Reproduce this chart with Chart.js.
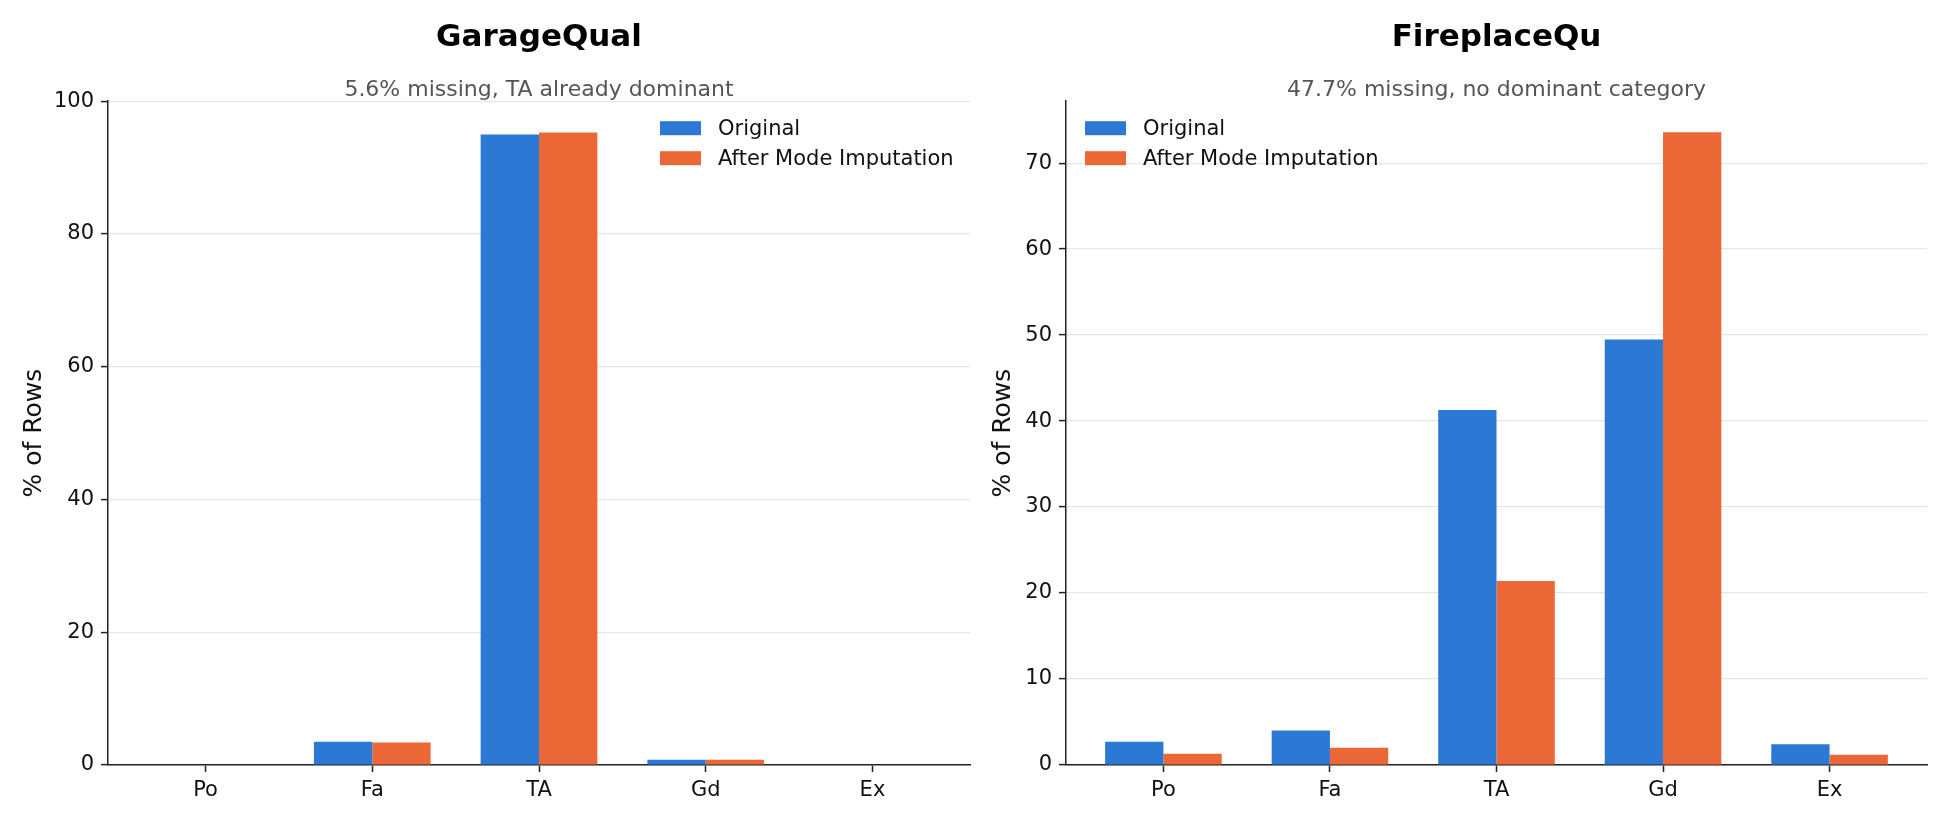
<!DOCTYPE html>
<html>
<head>
  <title>Mode Imputation</title>
  <script src="https://cdn.jsdelivr.net/npm/chart.js"></script>
  <style>
    body { margin: 0; background: #fff; }
    .panel { position: absolute; top: 0; width: 975px; height: 825px; }
  </style>
</head>
<body>
  <div class="panel" style="left:0"><canvas id="garageChart"></canvas></div>
  <div class="panel" style="left:975px"><canvas id="fireplaceChart"></canvas></div>

  <script>
    // ====================
    // Data (% of rows per category)
    // ====================
    const categories = ['Po', 'Fa', 'TA', 'Gd', 'Ex'];
    const seriesLabels = ['Original', 'After Mode Imputation'];

    const garageOriginal = [0, 3.5, 95.0, 0.8, 0];
    const garageImputed  = [0, 3.4, 95.3, 0.8, 0];
    const garageYTicks   = [0, 20, 40, 60, 80, 100];

    const fireplaceOriginal = [2.7, 4.0, 41.3, 49.5, 2.4];
    const fireplaceImputed  = [1.3, 2.0, 21.4, 73.6, 1.2];
    const fireplaceYTicks   = [0, 10, 20, 30, 40, 50, 60, 70];

    const BLUE = '#2b78d5';
    const ORANGE = '#eb6836';
    const FONT = 'DejaVu Sans';

    Chart.defaults.font.family = FONT;
    Chart.defaults.color = '#111';
    Chart.defaults.animation = false;

    // legend drawn inside the plot area, no frame
    const insideLegend = {
      id: 'insideLegend',
      afterDatasetsDraw(chart, args, opts) {
        const ctx = chart.ctx;
        const area = chart.chartArea;
        const x0 = area.left + opts.x;
        ctx.save();
        ctx.font = '21px "' + FONT + '"';
        ctx.textBaseline = 'middle';
        ctx.textAlign = 'left';
        chart.data.datasets.forEach((ds, i) => {
          const y = area.top + opts.y + i * opts.rowGap;
          ctx.fillStyle = ds.backgroundColor;
          ctx.fillRect(x0, y - 7, 41, 14);
          ctx.fillStyle = '#111';
          ctx.fillText(ds.label, x0 + 41 + 17, y + 1);
        });
        ctx.restore();
      }
    };

    function makeChart(id, title, subtitle, original, imputed, yTicks, yMax, axisWidth, padRight, legendPos) {
      return new Chart(document.getElementById(id), {
        type: 'bar',
        plugins: [insideLegend],
        data: {
          datasets: [
            {
              label: seriesLabels[0],
              data: original.map((v, i) => ({ x: i, y: v })),
              backgroundColor: BLUE
            },
            {
              label: seriesLabels[1],
              data: imputed.map((v, i) => ({ x: i, y: v })),
              backgroundColor: ORANGE
            }
          ]
        },
        options: {
          responsive: true,
          maintainAspectRatio: false,
          categoryPercentage: 0.7,
          barPercentage: 1.0,
          layout: { padding: { left: 0, right: padRight, top: 0, bottom: 0 } },
          plugins: {
            legend: { display: false },
            tooltip: { enabled: false },
            title: {
              display: true,
              text: title,
              fullSize: false,
              color: '#000',
              font: { size: 31, weight: 'bold', lineHeight: 1.2 },
              padding: { top: 19, bottom: 0 }
            },
            subtitle: {
              display: true,
              text: subtitle,
              fullSize: false,
              color: '#555',
              font: { size: 22, lineHeight: 1.0 },
              padding: { top: 23, bottom: 0 }
            },
            insideLegend: legendPos
          },
          scales: {
            x: {
              type: 'linear',
              offset: false,
              min: -0.585,
              max: 4.585,
              afterBuildTicks: (scale) => {
                scale.ticks = categories.map((c, i) => ({ value: i }));
              },
              afterFit: (scale) => { scale.height = 60; },
              ticks: {
                callback: (value) => categories[value],
                font: { size: 21 },
                color: '#111',
                padding: 6
              },
              grid: {
                offset: false,
                drawOnChartArea: false,
                color: '#222',
                tickColor: '#222',
                tickLength: 7,
                tickWidth: 1.5
              },
              border: { color: '#222', width: 1.5 }
            },
            y: {
              min: 0,
              max: yMax,
              afterBuildTicks: (scale) => {
                scale.ticks = yTicks.map(v => ({ value: v }));
              },
              afterFit: (scale) => { scale.width = axisWidth; },
              ticks: {
                font: { size: 21 },
                color: '#111',
                padding: 7
              },
              grid: {
                color: '#e6e6ea',
                lineWidth: 1.2,
                tickColor: '#222',
                tickLength: 7,
                tickWidth: 1.5
              },
              border: { color: '#222', width: 1.5 },
              title: {
                display: true,
                text: '% of Rows',
                color: '#111',
                font: { size: 25 },
                padding: { top: axisWidth === 108 ? 19 : 13 }
              }
            }
          }
        }
      });
    }

    // ====================
    // Bar Chart: GarageQual
    // ====================
    makeChart('garageChart', 'GarageQual', '5.6% missing, TA already dominant',
      garageOriginal, garageImputed, garageYTicks, 100, 108, 5,
      { x: 552, y: 27, rowGap: 30 });

    // ====================
    // Bar Chart: FireplaceQu
    // ====================
    makeChart('fireplaceChart', 'FireplaceQu', '47.7% missing, no dominant category',
      fireplaceOriginal, fireplaceImputed, fireplaceYTicks, 77.2, 91, 23,
      { x: 19, y: 27, rowGap: 30 });
  </script>
</body>
</html>
